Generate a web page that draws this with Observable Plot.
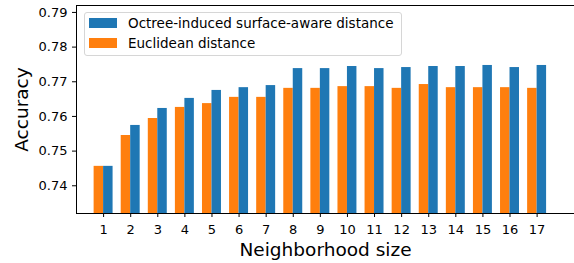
<!DOCTYPE html>
<html><head><meta charset="utf-8">
<script src="https://cdn.jsdelivr.net/npm/d3@7"></script>
<script src="https://cdn.jsdelivr.net/npm/@observablehq/plot@0.6"></script>
<style>
body{margin:0;background:#fff;font-family:"DejaVu Sans",sans-serif;}
#wrap{position:relative;width:574px;height:263px;overflow:hidden;}
.legend{position:absolute;left:84px;top:12px;width:318px;height:44px;border:1px solid #d6d6d6;border-radius:3px;background:rgba(255,255,255,0.8);box-sizing:border-box;font-size:13.5px;color:#000;}
.sw{position:absolute;left:4px;width:28px;height:10.5px;}
.lab{position:absolute;left:43px;line-height:16px;white-space:nowrap;}
</style></head>
<body>
<div id="wrap"></div>
<script>
const sizes = [1,2,3,4,5,6,7,8,9,10,11,12,13,14,15,16,17];
const octree = [0.7456,0.7574,0.7623,0.7652,0.7675,0.7683,0.7689,0.7738,0.7738,0.7744,0.7738,0.7741,0.7744,0.7744,0.7747,0.7741,0.7747];
const euclid = [0.7456,0.7545,0.7594,0.7626,0.7637,0.7655,0.7655,0.7681,0.7681,0.7686,0.7686,0.7681,0.7692,0.7683,0.7683,0.7683,0.7681];
const seriesNames = ["Octree-induced surface-aware distance","Euclidean distance"];
const seriesColors = ["#1f77b4","#ff7f0e"];
const yTicks = [0.74,0.75,0.76,0.77,0.78,0.79];
const yDomain = [0.732,0.792];
const xDomain = [0,18.38];
const barW = 0.35;

const octData = sizes.map((n,i)=>({n, v: octree[i]}));
const eucData = sizes.map((n,i)=>({n, v: euclid[i]}));

const chart = Plot.plot({
  width:574, height:263,
  marginLeft:76, marginRight:0, marginTop:5, marginBottom:50,
  style:{fontFamily:"DejaVu Sans", fontSize:"13px", color:"#000", background:"#fff"},
  x:{domain:xDomain, ticks:sizes, tickFormat:d=>String(d), tickSize:4, tickPadding:7, label:null},
  y:{domain:yDomain, ticks:yTicks, tickFormat:d=>d.toFixed(2), tickSize:4, tickPadding:5, label:null},
  marks:[
    Plot.rect(eucData, {x1:d=>d.n-barW, x2:d=>d.n, y1:yDomain[0], y2:"v", fill:seriesColors[1]}),
    Plot.rect(octData, {x1:d=>d.n, x2:d=>d.n+barW, y1:yDomain[0], y2:"v", fill:seriesColors[0]}),
    Plot.ruleX([xDomain[0]], {stroke:"#000", strokeWidth:1}),
    Plot.ruleY(yDomain, {stroke:"#000", strokeWidth:1}),
    Plot.text(["Accuracy"], {frameAnchor:"left", dx:-54, rotate:-90, textAnchor:"middle", lineAnchor:"middle", fontSize:18.5, fill:"#000"}),
    Plot.text(["Neighborhood size"], {frameAnchor:"bottom", dy:37, textAnchor:"middle", lineAnchor:"middle", fontSize:18.5, fill:"#000"})
  ]
});
const wrap = document.getElementById("wrap");
wrap.appendChild(chart);

const leg = document.createElement("div");
leg.className = "legend";
seriesNames.forEach((name,i)=>{
  const sw = document.createElement("div");
  sw.className = "sw";
  sw.style.top = (4.75 + i*20) + "px";
  sw.style.background = seriesColors[i];
  const lab = document.createElement("div");
  lab.className = "lab";
  lab.style.top = (2 + i*20) + "px";
  lab.textContent = name;
  leg.appendChild(sw); leg.appendChild(lab);
});
wrap.appendChild(leg);
</script>
</body></html>
